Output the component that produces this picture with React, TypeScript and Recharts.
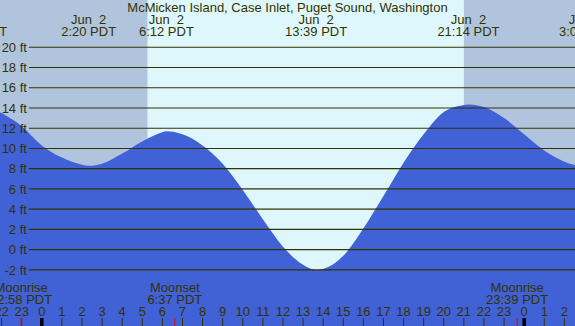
import { ComposedChart, Area, XAxis, YAxis, ReferenceArea, ReferenceLine } from 'recharts'

// hours relative to Jun 2 00:00 PDT
const hours = [-3, -2, -1, 0, 1, 2, 2.33, 3, 4, 5, 6, 6.2, 7, 8, 9, 10, 11, 12, 13, 13.65, 14, 15, 16, 17, 18, 19, 20, 21, 21.23, 22, 23, 24, 25, 26, 27]
const heights = [14.5, 13.5, 12.2, 10.3, 9.1, 8.4, 8.3, 8.5, 9.5, 10.7, 11.6, 11.7, 11.4, 10.3, 8.5, 5.9, 3.0, 0.3, -1.5, -2.0, -1.9, -0.6, 2.1, 5.3, 8.6, 11.4, 13.6, 14.3, 14.35, 14.1, 13.0, 11.4, 9.8, 8.7, 8.15]

const tideHours = [-3.27, 2.33, 6.2, 13.65, 21.23, 27.1]
const tideDates = ['Jun  1', 'Jun  2', 'Jun  2', 'Jun  2', 'Jun  2', 'Jun  3']
const tideTimes = ['20:44 PDT', '2:20 PDT', '6:12 PDT', '13:39 PDT', '21:14 PDT', '3:06 PDT']

const moonHours = [-1.03, 6.62, 23.65]
const moonEvents = ['Moonrise', 'Moonset', 'Moonrise']
const moonTimes = ['22:58 PDT', '6:37 PDT', '23:39 PDT']

const hourTicks = [-2, -1, 0, 1, 2, 3, 4, 5, 6, 7, 8, 9, 10, 11, 12, 13, 14, 15, 16, 17, 18, 19, 20, 21, 22, 23, 24, 25, 26]
const feetTicks = [20, 18, 16, 14, 12, 10, 8, 6, 4, 2, 0, -2]

const sunrise = 5.27
const sunset = 21.0

const xDomain: [number, number] = [-2.08, 26.53]
const yDomain: [number, number] = [-7.54, 24.67]
const gridStart = -0.64

const data = hours.map((h, i) => ({ h, ft: heights[i] }))

const INK = '#333300'
const FONT = "'Liberation Sans', Arial, sans-serif"
const txt = { fill: INK, fontSize: 13, fontFamily: FONT, textAnchor: 'middle' as const, style: { whiteSpace: 'pre' as const } }

const HourTick = (props: any) => {
  const { x, payload } = props
  const v = payload.value
  const label = ((v % 24) + 24) % 24
  const midnight = label === 0
  return (
    <g>
      <text x={x} y={316} {...txt}>{label}</text>
      <line x1={x} x2={x} y1={318} y2={326} stroke={midnight ? '#000' : INK} strokeWidth={midnight ? 3.5 : 1} />
    </g>
  )
}

const MoonTick = (props: any) => {
  const { x, index } = props
  return (
    <g>
      <text x={x} y={292} {...txt}>{moonEvents[index]}</text>
      <text x={x} y={304} {...txt}>{moonTimes[index]}</text>
      <line x1={x} x2={x} y1={318} y2={326} stroke="#ee0000" strokeWidth={1} />
    </g>
  )
}

const TideTick = (props: any) => {
  const { x, index } = props
  return (
    <g>
      <text x={x} y={24} {...txt}>{tideDates[index]}</text>
      <text x={x} y={36} {...txt}>{tideTimes[index]}</text>
    </g>
  )
}

export default function App() {
  return (
    <div style={{ position: 'relative', width: 575, height: 326 }}>
      <style>{'body{margin:0}'}</style>
      <ComposedChart width={575} height={326} data={data} margin={{ top: 0, right: 0, bottom: 0, left: 0 }}>
        <XAxis xAxisId="hours" dataKey="h" type="number" domain={xDomain} allowDataOverflow ticks={hourTicks}
          interval={0} orientation="bottom" mirror axisLine={false} tickLine={false} tick={<HourTick />} />
        <XAxis xAxisId="moon" dataKey="h" type="number" domain={xDomain} allowDataOverflow ticks={moonHours}
          interval={0} orientation="bottom" mirror axisLine={false} tickLine={false} tick={<MoonTick />} />
        <XAxis xAxisId="tide" dataKey="h" type="number" domain={xDomain} allowDataOverflow ticks={tideHours}
          interval={0} orientation="top" mirror axisLine={false} tickLine={false} tick={<TideTick />} />
        <YAxis type="number" domain={yDomain} allowDataOverflow hide />
        <ReferenceArea xAxisId="hours" x1={xDomain[0]} x2={sunrise} fill="#b0c4de" fillOpacity={1} stroke="none" />
        <ReferenceArea xAxisId="hours" x1={sunrise} x2={sunset} fill="#ddf7fd" fillOpacity={1} stroke="none" />
        <ReferenceArea xAxisId="hours" x1={sunset} x2={xDomain[1]} fill="#b0c4de" fillOpacity={1} stroke="none" />
        <Area xAxisId="hours" dataKey="ft" type="monotone" stroke="none" fill="#4161d7" fillOpacity={1}
          baseValue="dataMin" dot={false} activeDot={false} isAnimationActive={false} />
        {feetTicks.map((f) => (
          <ReferenceLine key={f} xAxisId="hours" segment={[{ x: gridStart, y: f }, { x: xDomain[1], y: f }]}
            stroke={INK} strokeWidth={1.2}
            label={{ value: `${f} ft`, position: 'left', offset: 2, fill: INK, fontSize: 13, fontFamily: FONT }} />
        ))}
      </ComposedChart>
      <div style={{ position: 'absolute', top: 1, left: 0, width: 575, textAlign: 'center', fontFamily: FONT,
        fontSize: 13, lineHeight: '13px', color: INK, pointerEvents: 'none' }}>
        McMicken Island, Case Inlet, Puget Sound, Washington
      </div>
    </div>
  )
}
